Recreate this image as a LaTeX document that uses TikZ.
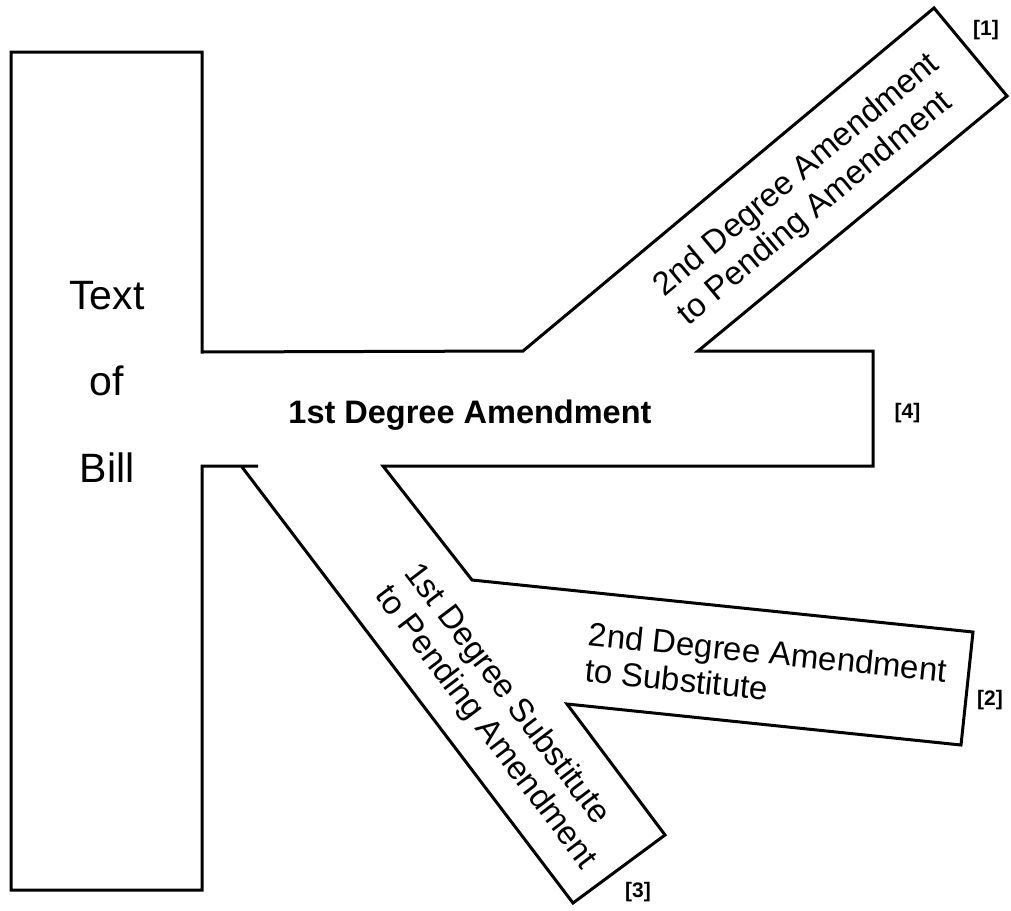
\documentclass[tikz,border=0pt]{standalone}
\usepackage{fontspec}
\setmainfont{Liberation Sans}
\tikzset{
  outline/.style={line width=3pt, line join=miter, line cap=butt},
  bigtxt/.style={font=\fontsize{41}{41}\selectfont, inner sep=0pt, anchor=base},
  armtxt/.style={font=\fontsize{33}{37.5}\selectfont, inner sep=0pt, align=left},
  subtxt/.style={font=\fontsize{33}{36.5}\selectfont, inner sep=0pt, align=left},
  maintxt/.style={font=\bfseries\fontsize{32.5}{32.5}\selectfont, inner sep=0pt, anchor=base},
  tag/.style={font=\bfseries\fontsize{21}{21}\selectfont, inner sep=0pt},
}
\begin{document}
\begin{tikzpicture}[x=1pt,y=-1pt]
\useasboundingbox (0,0) rectangle (1011,910);
\fill[white] (0,0) rectangle (1011,910);
\draw[outline] (258,466) -- (202,466) -- (202,890) -- (11,890) -- (11,52) -- (202,52) -- (202,352)
  -- (523,351) -- (934,8) -- (1007,96) -- (698,351) -- (873,351) -- (873,466) -- (383,466)
  -- (472,580) -- (973,632) -- (961,745) -- (567,704) -- (665,835) -- (573,903) -- (242,467);
\node[bigtxt] (t1) at (107,309) {Text};
\node[bigtxt] (t2) at (107,395) {of};
\node[bigtxt] (t3) at (107,482) {Bill};
\node[maintxt] (main) at (470,423) {1st Degree Amendment};
\node[armtxt, rotate=39.8] (a1) at (809.1,190) {2nd Degree Amendment\\to Pending Amendment};
\node[subtxt, rotate=-5.93] (a2) at (766.1,670.2) {2nd Degree Amendment\\to Substitute};
\node[armtxt, rotate=-52.8] (a3) at (500,716.6) {1st Degree Substitute\\to Pending Amendment};
\node[tag] (n1) at (986,30) {[1]};
\node[tag] (n2) at (990,700) {[2]};
\node[tag] (n3) at (638,892) {[3]};
\node[tag] (n4) at (907.5,413) {[4]};
\end{tikzpicture}
\end{document}
